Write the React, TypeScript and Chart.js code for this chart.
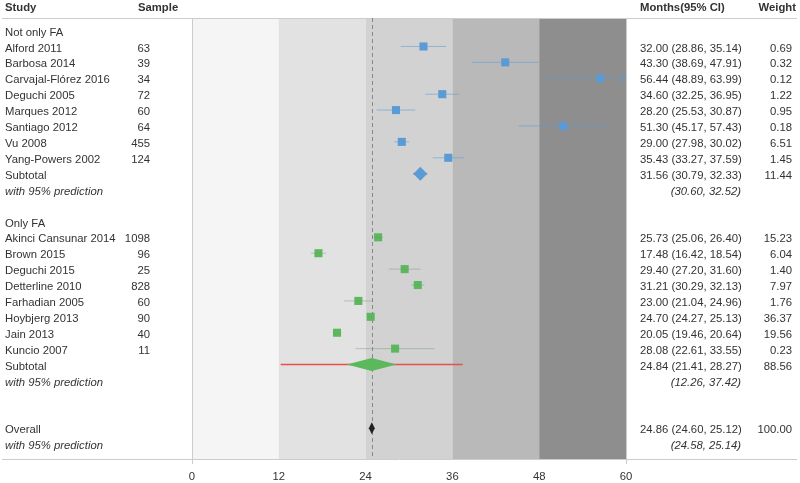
import React, { useEffect, useRef } from "react";
import { Chart, registerables } from "chart.js";
Chart.register(...registerables);

// ---------- data ----------
const group1Name = "Not only FA";
const group1Studies = ["Alford 2011", "Barbosa 2014", "Carvajal-Flórez 2016", "Deguchi 2005", "Marques 2012", "Santiago 2012", "Vu 2008", "Yang-Powers 2002"];
const group1Samples = [63, 39, 34, 72, 60, 64, 455, 124];
const group1Means = [32.0, 43.3, 56.44, 34.6, 28.2, 51.3, 29.0, 35.43];
const group1Lower = [28.86, 38.69, 48.89, 32.25, 25.53, 45.17, 27.98, 33.27];
const group1Upper = [35.14, 47.91, 63.99, 36.95, 30.87, 57.43, 30.02, 37.59];
const group1Weights = [0.69, 0.32, 0.12, 1.22, 0.95, 0.18, 6.51, 1.45];
const group1Subtotal = [31.56, 30.79, 32.33];
const group1SubtotalWeight = 11.44;
const group1Prediction = [30.6, 32.52];

const group2Name = "Only FA";
const group2Studies = ["Akinci Cansunar 2014", "Brown 2015", "Deguchi 2015", "Detterline 2010", "Farhadian 2005", "Hoybjerg 2013", "Jain 2013", "Kuncio 2007"];
const group2Samples = [1098, 96, 25, 828, 60, 90, 40, 11];
const group2Means = [25.73, 17.48, 29.4, 31.21, 23.0, 24.7, 20.05, 28.08];
const group2Lower = [25.06, 16.42, 27.2, 30.29, 21.04, 24.27, 19.46, 22.61];
const group2Upper = [26.4, 18.54, 31.6, 32.13, 24.96, 25.13, 20.64, 33.55];
const group2Weights = [15.23, 6.04, 1.4, 7.97, 1.76, 36.37, 19.56, 0.23];
const group2Subtotal = [24.84, 21.41, 28.27];
const group2SubtotalWeight = 88.56;
const group2Prediction = [12.26, 37.42];

const overallEstimate = [24.86, 24.6, 25.12];
const overallWeight = 100.0;
const overallPrediction = [24.58, 25.14];

const xTicks = [0, 12, 24, 36, 48, 60];
const bandEdges = [0, 12, 24, 36, 48, 60];

// ---------- row layout ----------
const g1Start = 1;
const g1Sub = g1Start + group1Studies.length; // 9
const g2Header = g1Sub + 3; // 12
const g2Start = g2Header + 1; // 13
const g2Sub = g2Start + group2Studies.length; // 21
const overallRow = g2Sub + 4; // 25

const BLUE = "#5b9bd5";
const GREEN = "#5cb85c";
const RED = "#e8504a";
const TEXT = "#333333";
const FONT = "'Liberation Sans', Arial, sans-serif";
const FS = 11.3;
const bandColors = ["#f5f5f5", "#e2e2e2", "#d2d2d2", "#b9b9b9", "#8e8e8e"];

const f2 = (v: number) => v.toFixed(2);
const ciText = (m: number, l: number, u: number) => `${f2(m)} (${f2(l)}, ${f2(u)})`;

function ciSegments(lower: number[], upper: number[], start: number) {
  const pts: any[] = [];
  lower.forEach((l, i) => {
    pts.push({ x: l, y: start + i });
    pts.push({ x: upper[i], y: start + i });
    pts.push({ x: NaN, y: NaN });
  });
  return pts;
}

export default function App() {
  const ref = useRef<HTMLCanvasElement | null>(null);
  useEffect(() => {
    document.body.style.margin = "0";
    const canvas = ref.current!;
    const bgPlugin = {
      id: "bg",
      beforeDatasetsDraw(chart: any) {
        const { ctx, chartArea: a, scales } = chart;
        const xs = scales.x;
        ctx.save();
        for (let i = 0; i < bandEdges.length - 1; i++) {
          const x0 = xs.getPixelForValue(bandEdges[i]);
          const x1 = xs.getPixelForValue(bandEdges[i + 1]);
          ctx.fillStyle = bandColors[i];
          ctx.fillRect(x0, a.top, x1 - x0, a.bottom - a.top);
        }
        // frame lines
        ctx.strokeStyle = "#cccccc";
        ctx.lineWidth = 1;
        ctx.beginPath();
        ctx.moveTo(2, a.top + 0.5);
        ctx.lineTo(797, a.top + 0.5);
        ctx.moveTo(2, a.bottom + 0.5);
        ctx.lineTo(797, a.bottom + 0.5);
        const l = Math.round(xs.getPixelForValue(0)) + 0.5;
        const r = Math.round(xs.getPixelForValue(60)) + 0.5;
        ctx.moveTo(l, a.top);
        ctx.lineTo(l, a.bottom + 5);
        ctx.moveTo(r, a.top);
        ctx.lineTo(r, a.bottom + 5);
        ctx.stroke();
        // overall reference dashed line
        const xo = Math.round(xs.getPixelForValue(overallEstimate[0])) + 0.5;
        ctx.strokeStyle = "#888888";
        ctx.setLineDash([4, 3]);
        ctx.beginPath();
        ctx.moveTo(xo, a.top);
        ctx.lineTo(xo, a.bottom);
        ctx.stroke();
        ctx.restore();
      },
      afterDatasetsDraw(chart: any) {
        const { ctx, scales } = chart;
        const xs = scales.x, ys = scales.y;
        ctx.save();
        const drawArrow = (row: number, color: string) => {
          const x = xs.getPixelForValue(60) - 1;
          const y = ys.getPixelForValue(row);
          ctx.strokeStyle = color;
          ctx.lineWidth = 1;
          ctx.beginPath();
          ctx.moveTo(x - 5, y - 4);
          ctx.lineTo(x, y);
          ctx.lineTo(x - 5, y + 4);
          ctx.stroke();
        };
        group1Upper.forEach((u, i) => { if (u > 60) drawArrow(g1Start + i, BLUE); });
        group2Upper.forEach((u, i) => { if (u > 60) drawArrow(g2Start + i, GREEN); });
        const diamond = (row: number, est: number[], color: string, minHalf: number, halfH: number) => {
          const y = ys.getPixelForValue(row);
          const c = xs.getPixelForValue(est[0]);
          let l = xs.getPixelForValue(est[1]);
          let r = xs.getPixelForValue(est[2]);
          if ((r - l) / 2 < minHalf) { l = c - minHalf; r = c + minHalf; }
          ctx.fillStyle = color;
          ctx.beginPath();
          ctx.moveTo(l, y);
          ctx.lineTo(c, y - halfH);
          ctx.lineTo(r, y);
          ctx.lineTo(c, y + halfH);
          ctx.closePath();
          ctx.fill();
        };
        diamond(g1Sub, group1Subtotal, BLUE, 7, 7);
        diamond(g2Sub, group2Subtotal, GREEN, 7, 6.5);
        diamond(overallRow, overallEstimate, "#222222", 3, 6);
        ctx.restore();
      },
      afterDraw(chart: any) {
        const { ctx, scales } = chart;
        const ys = scales.y;
        ctx.save();
        ctx.fillStyle = TEXT;
        ctx.textBaseline = "middle";
        const put = (t: string, x: number, y: number, align: CanvasTextAlign, style = "") => {
          ctx.font = `${style} ${FS}px ${FONT}`;
          ctx.textAlign = align;
          ctx.fillText(t, x, y);
        };
        const ry = (row: number) => ys.getPixelForValue(row) + 2;
        put("Study", 5, 8, "left", "bold");
        put("Sample", 138, 8, "left", "bold");
        put("Months(95% CI)", 640, 8, "left", "bold");
        put("Weight", 796, 8, "right", "bold");
        const group = (name: string, header: number, start: number, studies: string[], samples: number[], means: number[], lo: number[], hi: number[], w: number[], sub: number[], subW: number, pred: number[]) => {
          put(name, 5, ry(header), "left");
          studies.forEach((s, i) => {
            const y = ry(start + i);
            put(s, 5, y, "left");
            put(String(samples[i]), 150, y, "right");
            put(ciText(means[i], lo[i], hi[i]), 640, y, "left");
            put(f2(w[i]), 792, y, "right");
          });
          const ys2 = ry(start + studies.length);
          put("Subtotal", 5, ys2, "left");
          put(ciText(sub[0], sub[1], sub[2]), 640, ys2, "left");
          put(f2(subW), 792, ys2, "right");
          const yp = ry(start + studies.length + 1);
          put("with 95% prediction", 5, yp, "left", "italic");
          put(`(${f2(pred[0])}, ${f2(pred[1])})`, 741, yp, "right", "italic");
        };
        group(group1Name, 0, g1Start, group1Studies, group1Samples, group1Means, group1Lower, group1Upper, group1Weights, group1Subtotal, group1SubtotalWeight, group1Prediction);
        group(group2Name, g2Header, g2Start, group2Studies, group2Samples, group2Means, group2Lower, group2Upper, group2Weights, group2Subtotal, group2SubtotalWeight, group2Prediction);
        const yo = ry(overallRow);
        put("Overall", 5, yo, "left");
        put(ciText(overallEstimate[0], overallEstimate[1], overallEstimate[2]), 640, yo, "left");
        put(f2(overallWeight), 792, yo, "right");
        const yop = ry(overallRow + 1);
        put("with 95% prediction", 5, yop, "left", "italic");
        put(`(${f2(overallPrediction[0])}, ${f2(overallPrediction[1])})`, 741, yop, "right", "italic");
        ctx.restore();
      },
    };

    const predLines: any[] = [
      { x: group1Prediction[0], y: g1Sub }, { x: group1Prediction[1], y: g1Sub }, { x: NaN, y: NaN },
      { x: group2Prediction[0], y: g2Sub }, { x: group2Prediction[1], y: g2Sub }, { x: NaN, y: NaN },
    ];

    const chart = new Chart(canvas, {
      type: "scatter",
      data: {
        datasets: [
          { type: "line", data: ciSegments(group1Lower, group1Upper, g1Start), borderColor: "rgba(91,155,213,0.55)", borderWidth: 1, pointRadius: 0, spanGaps: false } as any,
          { type: "line", data: ciSegments(group2Lower, group2Upper, g2Start), borderColor: "rgba(120,150,120,0.45)", borderWidth: 1, pointRadius: 0, spanGaps: false } as any,
          { type: "line", data: predLines, borderColor: RED, borderWidth: 1.5, pointRadius: 0, spanGaps: false } as any,
          { data: group1Means.map((m, i) => ({ x: m, y: g1Start + i })), pointStyle: "rect", pointRadius: 5.7, backgroundColor: BLUE, borderWidth: 0 } as any,
          { data: group2Means.map((m, i) => ({ x: m, y: g2Start + i })), pointStyle: "rect", pointRadius: 5.7, backgroundColor: GREEN, borderWidth: 0 } as any,
        ],
      },
      options: {
        animation: false,
        responsive: false,
        devicePixelRatio: 1,
        layout: { padding: { left: 192, right: 174, top: 18, bottom: 0 } },
        plugins: { legend: { display: false }, tooltip: { enabled: false } },
        scales: {
          x: {
            type: "linear",
            min: 0,
            max: 60,
            afterBuildTicks: (s: any) => { s.ticks = xTicks.map((v) => ({ value: v })); },
            afterFit: (s: any) => { s.height = 24; },
            ticks: { color: TEXT, font: { size: FS, family: FONT }, padding: 3, maxRotation: 0 },
            grid: { display: false },
            border: { display: false },
          },
          y: { type: "linear", display: false, min: -0.79, max: 26.94, reverse: true },
        },
      } as any,
      plugins: [bgPlugin],
    });
    return () => chart.destroy();
  }, []);
  return (
    <div style={{ width: 800, height: 483 }}>
      <canvas ref={ref} width={800} height={483} style={{ display: "block" }} />
    </div>
  );
}
